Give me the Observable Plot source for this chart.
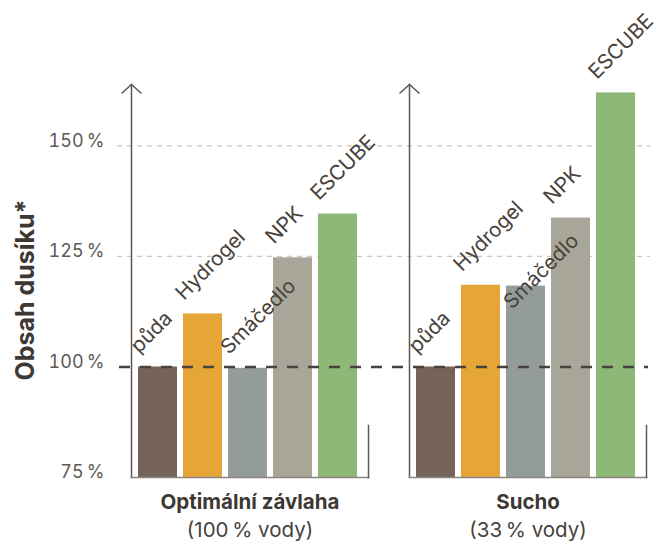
<!DOCTYPE html>
<html><head><meta charset="utf-8">
<script src="https://cdn.jsdelivr.net/npm/d3@7"></script>
<script src="https://cdn.jsdelivr.net/npm/@observablehq/plot@0.6"></script>
<style>
html,body{margin:0;padding:0;background:#fff;}
#chart{width:665px;height:543px;}
</style></head><body><div id="chart"></div>
<script>
// ---- data ----
const categories = ["půda", "Hydrogel", "Smáčedlo", "NPK", "ESCUBE"];
const panels = ["Optimální závlaha", "Sucho"];
const panelSubtitles = ["(100\u2009% vody)", "(33\u2009% vody)"];
const optimalValues = [100, 112, 99.7, 124.7, 134.6];
const droughtValues = [100, 118.5, 118.3, 133.7, 162];
const yTicks = [75, 100, 125, 150];
const gridValues = [125, 150];
const referenceValue = 100;
const yTitle = "Obsah dusíku*";

// ---- styles ----
const barColors = ["#75635a", "#e6a537", "#939c99", "#a8a698", "#8db878"];
const ink = "#48423c";
const axisInk = "#5e5852";

const seriesByPanel = [optimalValues, droughtValues];
const rows = [];
panels.forEach((p, i) => categories.forEach((c, j) =>
  rows.push({panel: p, category: c, value: seriesByPanel[i][j]})));
const panelRows = panels.map((p, i) => ({panel: p, sub: panelSubtitles[i]}));
const first = [{panel: panels[0]}];

// label nudge for the one label moved down in the original
const isNudged = d => d.panel === "Sucho" && d.category === "Smáčedlo";

const chevron = {
  draw(ctx, size) {
    const r = Math.sqrt(size / Math.PI);
    ctx.moveTo(-r, r * 0.9);
    ctx.lineTo(0, 0);
    ctx.lineTo(r, r * 0.9);
  }
};

const chart = Plot.plot({
  width: 665,
  height: 543,
  marginLeft: 131,
  marginRight: 19,
  marginTop: 84,
  marginBottom: 66,
  style: {fontFamily: "Inter, 'Open Sans', sans-serif", background: "#fff", overflow: "visible"},
  fx: {domain: panels, axis: null, paddingInner: 0.148, paddingOuter: 0},
  x: {domain: categories, axis: null, paddingInner: 0.142, paddingOuter: 0, insetLeft: 6, insetRight: 10},
  y: {domain: [75, 163.9], axis: null},
  color: {domain: categories, range: barColors},
  marks: [
    Plot.ruleY(gridValues.map(v => ({panel: panels[0], v})), {
      fx: "panel", y: "v", insetLeft: -14, insetRight: -282,
      stroke: "#c9c6c2", strokeWidth: 1.3, strokeDasharray: "5,5"
    }),
    Plot.barY(rows, {fx: "panel", x: "category", y: "value", fill: "category", clip: true}),
    Plot.frame({anchor: "left", stroke: axisInk, strokeWidth: 1.5}),
    Plot.frame({anchor: "bottom", stroke: "#8a857f", strokeWidth: 1.5}),
    Plot.frame({anchor: "right", insetTop: 341, stroke: axisInk, strokeWidth: 1.5}),
    Plot.dot(panelRows, {fx: "panel", frameAnchor: "top-left", symbol: chevron, r: 10,
      fill: "none", stroke: axisInk, strokeWidth: 1.5}),
    Plot.ruleY([{panel: panels[0], v: referenceValue}], {
      fx: "panel", y: "v", insetLeft: -12, insetRight: -280,
      stroke: ink, strokeWidth: 2.5, strokeDasharray: "11,10"
    }),
    Plot.axisY(yTicks, {tickSize: 0, tickPadding: 27, tickFormat: d => d + "\u2009%",
      fontSize: 18, dy: -5, color: "#5f5a55", label: null}),
    Plot.text(first, {fx: "panel", text: () => yTitle, frameAnchor: "left", textAnchor: "middle",
      rotate: -90, dx: -106, dy: 9, fontSize: 25, fontWeight: 700, fill: "#3d3834"}),
    Plot.text(rows.filter(d => !isNudged(d)), {fx: "panel", x: "category", y: "value", text: "category",
      rotate: -45, textAnchor: "start", lineAnchor: "bottom", dx: -19, dy: -13,
      fontSize: 20.5, fill: ink}),
    Plot.text(rows.filter(isNudged), {fx: "panel", x: "category", y: "value", text: "category",
      rotate: -45, textAnchor: "start", lineAnchor: "bottom", dx: -14, dy: 24,
      fontSize: 20.5, fill: ink}),
    Plot.text(panelRows, {fx: "panel", text: "panel", frameAnchor: "bottom", dy: 31,
      fontSize: 20.5, fontWeight: 700, fill: "#3d3834"}),
    Plot.text(panelRows, {fx: "panel", text: "sub", frameAnchor: "bottom", dy: 59,
      fontSize: 20.5, fill: ink})
  ]
});
document.getElementById("chart").appendChild(chart);
</script></body></html>
